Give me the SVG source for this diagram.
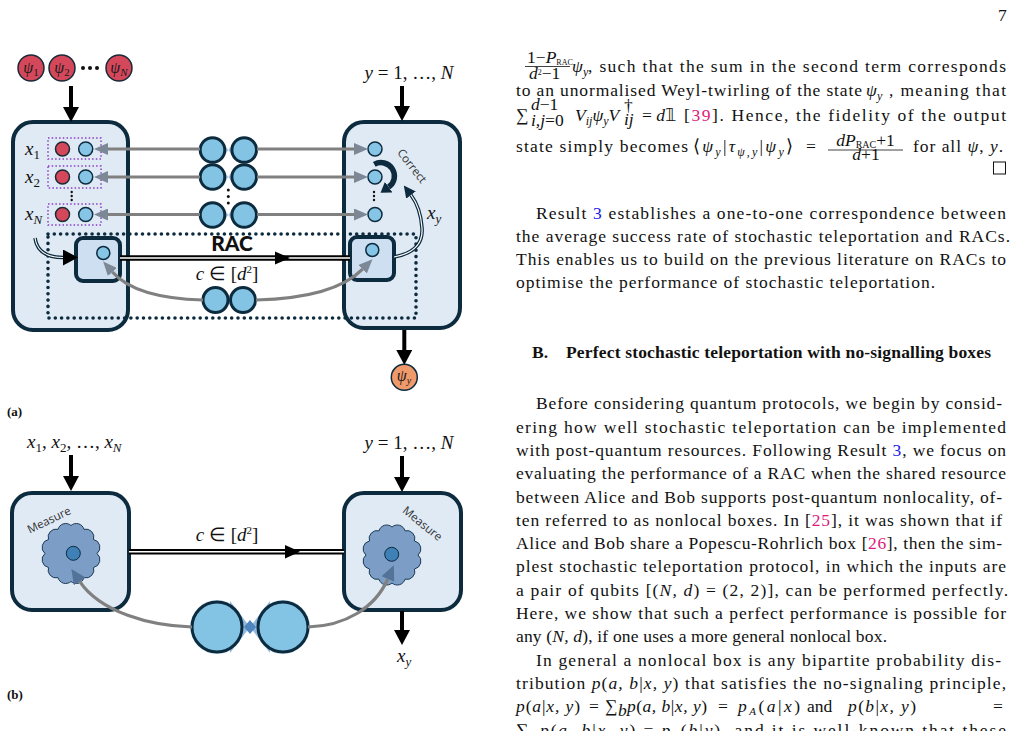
<svg xmlns="http://www.w3.org/2000/svg" width="1016" height="731" viewBox="0 0 1016 731">
<defs>
<style>
.t{font-family:"Liberation Serif",serif;font-size:17.5px;fill:#111}
.i{font-style:italic}
.s{font-size:12px}
.lnk{fill:#2020e8}
.cit{fill:#e0197d}
.h{font-family:"Liberation Serif",serif;font-size:17.5px;font-weight:bold;fill:#111}
.m{font-family:"Liberation Serif",serif;font-style:italic;font-size:19px;fill:#111}
.ms{font-size:13px}
.up{font-style:normal}
.box{fill:#e0eaf5;stroke:#0d2b3e;stroke-width:4}
.inner{fill:#cddff1;stroke:#0d2b3e;stroke-width:4}
.qb{fill:#86c5e6;stroke:#0d2b3e;stroke-width:1.5}
.rq{fill:#d5485c;stroke:#1b2a36;stroke-width:1.5}
.pr{fill:#83c3e3;stroke:#0d2b3e;stroke-width:3}
.gl{fill:none;stroke:#808080;stroke-width:3.2}
.bl{stroke:#000;stroke-width:4;fill:none}
.dl{fill:none;stroke:#000;stroke-width:5.5}
.dlw{fill:none;stroke:#fff;stroke-width:1.6}
.dln{fill:none;stroke:#0d2b3e;stroke-width:3.6}
.dlnw{fill:none;stroke:#fff;stroke-width:1.2}
.pur{fill:none;stroke:#8c3fc4;stroke-width:1.5;stroke-dasharray:1.5 2.2}
.dots{fill:none;stroke:#0d2b3e;stroke-width:3.6;stroke-linecap:round;stroke-dasharray:0 6.3}
.dot{fill:#111}
.cloud{fill:#7b9dc6;stroke:#1e3a55;stroke-width:1}
.qc{fill:#3f80b6;stroke:#0d2b3e;stroke-width:1}
.lbl{font-family:"Open Sans",sans-serif;font-size:11.5px;fill:#333}
.bow{fill:#6d9fd1;opacity:.6}
.psi{font-family:"Liberation Serif",serif;font-style:italic;font-size:16px;fill:#1a1a1a}
</style>
<marker id="ahb" markerUnits="userSpaceOnUse" markerWidth="15" markerHeight="16" viewBox="0 0 15 16" refX="0" refY="8" orient="auto"><path d="M0,0 L15,8 L0,16 z" fill="#000"/></marker>
<marker id="ahg" markerUnits="userSpaceOnUse" markerWidth="14" markerHeight="12" viewBox="0 0 14 12" refX="0" refY="6" orient="auto"><path d="M0,0 L14,6 L0,12 z" fill="#7d8896"/></marker>
<marker id="ahs" markerUnits="userSpaceOnUse" markerWidth="15" markerHeight="14" viewBox="0 0 15 14" refX="0" refY="7" orient="auto"><path d="M0,0 L15,7 L0,14 z" fill="#4c6d8f" fill-opacity="0.85"/></marker>
<marker id="ahn" markerUnits="userSpaceOnUse" markerWidth="12" markerHeight="12" viewBox="0 0 12 12" refX="0" refY="6" orient="auto"><path d="M0,0 L12,6 L0,12 z" fill="#0d2b3e"/></marker>
<marker id="ahc" markerUnits="userSpaceOnUse" markerWidth="10" markerHeight="13" viewBox="0 0 10 13" refX="0" refY="6.5" orient="auto"><path d="M0,0 L10,6.5 L0,13 z" fill="#0d2b3e"/></marker>
<path id="cloud" d="M26,0 A8,8 0 0 1 22.5,14 A8,8 0 0 1 13,24.2 A8,8 0 0 1 0,28 A8,8 0 0 1 -13,24.2 A8,8 0 0 1 -22.5,14 A8,8 0 0 1 -26,0 A8,8 0 0 1 -22.5,-14 A8,8 0 0 1 -13,-24.2 A8,8 0 0 1 0,-28 A8,8 0 0 1 13,-24.2 A8,8 0 0 1 22.5,-14 A8,8 0 0 1 26,0 Z"/>
</defs>
<rect width="1016" height="731" fill="#fff"/>

<!-- ============ (a) ============ -->
<g id="a-inputs">
  <circle class="rq" cx="31" cy="68" r="13"/>
  <text class="psi" x="31" y="73" text-anchor="middle">ψ<tspan font-size="11" dy="3" font-style="normal">1</tspan></text>
  <circle class="rq" cx="62" cy="68" r="13"/>
  <text class="psi" x="62" y="73" text-anchor="middle">ψ<tspan font-size="11" dy="3" font-style="normal">2</tspan></text>
  <circle class="dot" cx="83" cy="68" r="2"/><circle class="dot" cx="90" cy="68" r="2"/><circle class="dot" cx="97" cy="68" r="2"/>
  <circle class="rq" cx="119" cy="68" r="13"/>
  <text class="psi" x="119" y="73" text-anchor="middle">ψ<tspan font-size="11" dy="3">N</tspan></text>
</g>
<g id="a-ylabel">
  <text class="m" x="409" y="79" text-anchor="middle">y <tspan class="up">= 1, …,</tspan> N</text>
</g>
<g id="a-alice">
  <rect class="box" x="13" y="122" width="115" height="208" rx="20"/>
  <text class="m" x="25" y="155">x<tspan class="ms up" dy="4">1</tspan></text>
  <text class="m" x="25" y="183">x<tspan class="ms up" dy="4">2</tspan></text>
  <text class="m" x="25" y="220">x<tspan class="ms" dy="4">N</tspan></text>
  <rect class="pur" x="48" y="138" width="53" height="21"/>
  <rect class="pur" x="48" y="166" width="53" height="22"/>
  <rect class="pur" x="48" y="204" width="53" height="21"/>
  <circle class="rq" cx="62.5" cy="149" r="7"/><circle class="qb" cx="85.7" cy="149" r="7"/>
  <circle class="rq" cx="62.5" cy="177" r="7"/><circle class="qb" cx="85.7" cy="177" r="7"/>
  <circle class="rq" cx="62.5" cy="214.5" r="7"/><circle class="qb" cx="85.7" cy="214.5" r="7"/>
  <circle class="dot" cx="71.7" cy="192" r="1.2"/><circle class="dot" cx="71.7" cy="196" r="1.2"/><circle class="dot" cx="71.7" cy="200" r="1.2"/>
  <rect class="inner" x="76" y="238" width="44" height="43" rx="7"/>
  <circle class="qb" cx="103.3" cy="253" r="6.5"/>
</g>
<g id="a-bob">
  <rect class="box" x="344" y="122" width="116" height="206" rx="20"/>
  <circle class="qb" cx="375" cy="149" r="7"/>
  <circle class="qb" cx="375" cy="177" r="7"/>
  <circle class="qb" cx="375" cy="214.5" r="7"/>
  <circle class="dot" cx="374" cy="192" r="1.2"/><circle class="dot" cx="374" cy="196" r="1.2"/><circle class="dot" cx="374" cy="200" r="1.2"/>
  <path d="M374.3,164.3 A13.5,13.5 0 0 1 388.7,187.1" fill="none" stroke="#0d2b3e" stroke-width="5.5" marker-end="url(#ahc)"/>
  <text class="lbl" transform="translate(412,166) rotate(52)" y="4" text-anchor="middle">Correct</text>
  <text class="m" x="427" y="219">x<tspan class="ms" dy="4">y</tspan></text>
  <rect class="inner" x="350" y="237" width="44" height="43" rx="7"/>
  <circle class="qb" cx="372.3" cy="250" r="6.5"/>
</g>
<g id="a-pairs">
  <polygon class="bow" points="224,144 228.3,150 232.6,144 232.6,156 228.3,150 224,156"/>
  <polygon class="bow" points="224,171 228.3,177 232.6,171 232.6,183 228.3,177 224,183"/>
  <polygon class="bow" points="224,209 228.3,215 232.6,209 232.6,221 228.3,215 224,221"/>
  <circle class="pr" cx="212.5" cy="150" r="12.3"/><circle class="pr" cx="244.2" cy="150" r="12.3"/>
  <circle class="pr" cx="212.5" cy="177" r="12.3"/><circle class="pr" cx="244.2" cy="177" r="12.3"/>
  <circle class="pr" cx="212.5" cy="215" r="12.3"/><circle class="pr" cx="244.2" cy="215" r="12.3"/>
  <circle class="dot" cx="228.3" cy="190" r="1.5"/><circle class="dot" cx="228.3" cy="196.5" r="1.5"/><circle class="dot" cx="228.3" cy="203" r="1.5"/>
  <circle class="pr" cx="215.5" cy="300" r="12.5"/><circle class="pr" cx="243" cy="300" r="12.5"/>
</g>
<g id="a-rac">
  <path class="dots" d="M48,234 H416 V318 H48 Z"/>
  <text x="232" y="251" text-anchor="middle" font-family="Lato,sans-serif" font-weight="900" font-size="21" fill="#111">RAC</text>
  <text class="m" x="227" y="280" text-anchor="middle" font-size="17">c <tspan class="up">∈ [</tspan>d<tspan class="up" font-size="11" dy="-7">2</tspan><tspan class="up" dy="7">]</tspan></text>
</g>
<g id="a-output">
  <circle cx="404.3" cy="377.3" r="13" fill="#f0996a" stroke="#0d2b3e" stroke-width="1.5"/>
  <text class="psi" x="404" y="381" text-anchor="middle" font-size="14">ψ<tspan font-size="10" dy="3">y</tspan></text>
</g>
<g id="a-connectors">
  <line class="bl" x1="71" y1="86" x2="71" y2="107" marker-end="url(#ahb)"/>
  <line class="bl" x1="402" y1="86" x2="402" y2="106" marker-end="url(#ahb)"/>
  <line class="bl" x1="404.3" y1="330" x2="404.3" y2="350" marker-end="url(#ahb)"/>
  <line class="gl" x1="200" y1="149" x2="108" y2="149" marker-end="url(#ahg)"/>
  <line class="gl" x1="200" y1="177" x2="108" y2="177" marker-end="url(#ahg)"/>
  <line class="gl" x1="200" y1="214.5" x2="108" y2="214.5" marker-end="url(#ahg)"/>
  <line class="gl" x1="257" y1="149" x2="354" y2="149" marker-end="url(#ahg)"/>
  <line class="gl" x1="257" y1="177" x2="354" y2="177" marker-end="url(#ahg)"/>
  <line class="gl" x1="257" y1="214.5" x2="354" y2="214.5" marker-end="url(#ahg)"/>
  <path class="gl" d="M203,300 C165,299 130,292 112.4,272" marker-end="url(#ahg)"/>
  <path class="gl" d="M256,300 C300,299 340,292 362.6,269.2" marker-end="url(#ahg)"/>
  <path class="dl" d="M120,258 H350"/>
  <path class="dlw" d="M120,258 H350"/>
  <polygon points="275,251.5 290,258 275,264.5" fill="#000"/>
  <path class="dln" d="M35,238 C37,252 48,257.5 63,257.5" marker-end="url(#ahb)"/>
  <path class="dlnw" d="M35,238 C37,252 48,257.5 63,257.5"/>
  <path class="dln" d="M394,257 C416,253 423,242 422,228 C421,213 417,203 411,195" marker-end="url(#ahn)"/>
  <path class="dlnw" d="M394,257 C416,253 423,242 422,228 C421,213 417,203 411,195"/>
</g>
<text x="7" y="416" font-family="Liberation Serif,serif" font-weight="bold" font-size="13" fill="#111">(a)</text>

<!-- ============ (b) ============ -->
<g id="b-xlabel">
  <text class="m" x="27" y="448">x<tspan class="ms up" dy="4">1</tspan><tspan dy="-4" class="up">, </tspan>x<tspan class="ms up" dy="4">2</tspan><tspan dy="-4" class="up">, …, </tspan>x<tspan class="ms" dy="4">N</tspan></text>
</g>
<g id="b-ylabel">
  <text class="m" x="409" y="449" text-anchor="middle">y <tspan class="up">= 1, …,</tspan> N</text>
</g>
<g id="b-alice">
  <rect class="box" x="12" y="493" width="117" height="117" rx="20"/>
  <text class="lbl" transform="translate(49,520) rotate(-26)" y="4" text-anchor="middle">Measure</text>
  <use href="#cloud" class="cloud" transform="translate(71,553.5)"/>
  <circle class="qc" cx="73.3" cy="553.3" r="7"/>
</g>
<g id="b-bob">
  <rect class="box" x="344" y="493" width="117" height="117" rx="20"/>
  <text class="lbl" transform="translate(422.5,523.5) rotate(39)" y="4" text-anchor="middle">Measure</text>
  <use href="#cloud" class="cloud" transform="translate(392,555)"/>
  <circle class="qc" cx="391.7" cy="554.3" r="7"/>
</g>
<g id="b-pair">
  <circle cx="217" cy="627" r="27" fill="#9ccbe8" opacity="0.6"/>
  <circle cx="283" cy="627" r="27" fill="#9ccbe8" opacity="0.6"/>
  <polygon points="230,601 250,627 270,601 270,653 250,627 230,653" fill="#7eaedb" opacity="0.85"/>
  <polygon points="250,620 256,627 250,634 244,627" fill="#4f86be"/>
  <circle class="pr" cx="217" cy="627" r="25"/>
  <circle class="pr" cx="283" cy="627" r="25"/>
</g>
<g id="b-output">
  <text class="m" x="397" y="662">x<tspan class="ms" dy="4">y</tspan></text>
</g>
<g id="b-connectors">
  <line class="bl" x1="71" y1="455" x2="71" y2="476" marker-end="url(#ahb)"/>
  <line class="bl" x1="402" y1="456" x2="402" y2="477" marker-end="url(#ahb)"/>
  <line class="bl" x1="402" y1="611" x2="402" y2="630" marker-end="url(#ahb)"/>
  <path class="dl" d="M129,551.7 H344"/>
  <path class="dlw" d="M129,551.7 H344"/>
  <polygon points="285,545 300,551.7 285,558.4" fill="#000"/>
  <path class="gl" d="M192,627 C150,626 100,612 79.7,581.4" marker-end="url(#ahs)"/>
  <path class="gl" d="M308,627 C345,626 375,608 387.8,579" marker-end="url(#ahs)"/>
</g>
<text class="m" x="227" y="541" text-anchor="middle" font-size="17">c <tspan class="up">∈ [</tspan>d<tspan class="up" font-size="11" dy="-7">2</tspan><tspan class="up" dy="7">]</tspan></text>
<text x="7" y="699" font-family="Liberation Serif,serif" font-weight="bold" font-size="13" fill="#111">(b)</text>

<!-- ============ page text ============ -->
<g id="page-text">
<text class="t" x="998" y="21">7</text>

<text class="t" x="527" y="63" font-size="12">1−<tspan class="i">P</tspan><tspan font-size="8" dy="2">RAC</tspan></text>
<line x1="525" y1="66.5" x2="570" y2="66.5" stroke="#111" stroke-width="0.8"/>
<text class="t" x="529" y="78.5" font-size="12"><tspan class="i">d</tspan><tspan font-size="8" dy="-4">2</tspan><tspan dy="4">−1</tspan></text>
<text class="t i" x="572" y="72">ψ<tspan class="s" dy="4">y</tspan></text>
<text class="t" x="588" y="72" textLength="418" lengthAdjust="spacing">, such that the sum in the second term corresponds</text>

<text class="t" x="516" y="96" textLength="346" lengthAdjust="spacing">to an unormalised Weyl-twirling of the state</text>
<text class="t i" x="866" y="96">ψ<tspan class="s" dy="4">y</tspan></text>
<text class="t" x="889" y="96" textLength="117" lengthAdjust="spacing">, meaning that</text>

<text class="t" x="516" y="121" font-size="20">∑</text>
<text class="t" x="531" y="110" font-size="11"><tspan class="i">d</tspan>−1</text>
<text class="t" x="531" y="126" font-size="11"><tspan class="i">i,j</tspan>=0</text>
<text class="t i" x="575" y="121">V<tspan class="s" dy="4">ij</tspan><tspan dy="-4">ψ</tspan><tspan class="s" dy="4">y</tspan><tspan dy="-4">V</tspan></text>
<text class="t" x="624" y="111" font-size="11">†</text>
<text class="t i" x="624" y="125" font-size="11">ij</text>
<text class="t" x="642" y="121">= <tspan class="i">d</tspan>𝟙</text>
<text class="t" x="684" y="121" textLength="322" lengthAdjust="spacing">[<tspan class="cit">39</tspan>]. Hence, the fidelity of the output</text>

<text class="t" x="516" y="152" textLength="172" lengthAdjust="spacing">state simply becomes</text>
<text class="t" x="693" y="152" textLength="100" lengthAdjust="spacing">⟨<tspan class="i">ψ</tspan><tspan class="s i" dy="4">y</tspan><tspan dy="-4">|</tspan><tspan class="i">τ</tspan><tspan class="s i" dy="4">ψ,y</tspan><tspan dy="-4">|</tspan><tspan class="i">ψ</tspan><tspan class="s i" dy="4">y</tspan><tspan dy="-4">⟩</tspan></text>
<text class="t" x="806" y="152">=</text>
<text class="t" x="865.5" y="146" font-size="14" text-anchor="middle"><tspan class="i">dP</tspan><tspan font-size="10" dy="1.5">RAC</tspan><tspan dy="-1.5">+1</tspan></text>
<line x1="828" y1="150" x2="903" y2="150" stroke="#111" stroke-width="0.8"/>
<text class="t" x="866" y="160" font-size="14" text-anchor="middle"><tspan class="i">d</tspan>+1</text>
<text class="t" x="913" y="152" textLength="90" lengthAdjust="spacing">for all <tspan class="i">ψ</tspan>, <tspan class="i">y</tspan>.</text>
<rect x="993.5" y="162" width="12" height="12" fill="none" stroke="#111" stroke-width="1"/>

<text class="t" x="536" y="219" textLength="470" lengthAdjust="spacing">Result <tspan class="lnk">3</tspan> establishes a one-to-one correspondence between</text>
<text class="t" x="516" y="242" textLength="494" lengthAdjust="spacing">the average success rate of stochastic teleportation and RACs.</text>
<text class="t" x="516" y="265" textLength="490" lengthAdjust="spacing">This enables us to build on the previous literature on RACs to</text>
<text class="t" x="516" y="288" textLength="419" lengthAdjust="spacing">optimise the performance of stochastic teleportation.</text>

<text class="h" x="532" y="358">B.</text>
<text class="h" x="566" y="358" textLength="425" lengthAdjust="spacing">Perfect stochastic teleportation with no-signalling boxes</text>

<text class="t" x="536" y="409.3" textLength="466" lengthAdjust="spacing">Before considering quantum protocols, we begin by consid-</text>
<text class="t" x="516" y="432.6" textLength="490" lengthAdjust="spacing">ering how well stochastic teleportation can be implemented</text>
<text class="t" x="516" y="455.9" textLength="490" lengthAdjust="spacing">with post-quantum resources. Following Result <tspan class="lnk">3</tspan>, we focus on</text>
<text class="t" x="516" y="479.2" textLength="490" lengthAdjust="spacing">evaluating the performance of a RAC when the shared resource</text>
<text class="t" x="516" y="502.5" textLength="486" lengthAdjust="spacing">between Alice and Bob supports post-quantum nonlocality, of-</text>
<text class="t" x="516" y="525.8" textLength="486" lengthAdjust="spacing">ten referred to as nonlocal boxes. In [<tspan class="cit">25</tspan>], it was shown that if</text>
<text class="t" x="516" y="549.1" textLength="486" lengthAdjust="spacing">Alice and Bob share a Popescu-Rohrlich box [<tspan class="cit">26</tspan>], then the sim-</text>
<text class="t" x="516" y="572.4" textLength="490" lengthAdjust="spacing">plest stochastic teleportation protocol, in which the inputs are</text>
<text class="t" x="516" y="595.7" textLength="492" lengthAdjust="spacing">a pair of qubits [(<tspan class="i">N, d</tspan>) = (2, 2)], can be performed perfectly.</text>
<text class="t" x="516" y="619" textLength="490" lengthAdjust="spacing">Here, we show that such a perfect performance is possible for</text>
<text class="t" x="516" y="642.3" textLength="371" lengthAdjust="spacing">any (<tspan class="i">N, d</tspan>), if one uses a more general nonlocal box.</text>
<text class="t" x="536" y="665.6" textLength="465" lengthAdjust="spacing">In general a nonlocal box is any bipartite probability dis-</text>
<text class="t" x="516" y="688.9" textLength="490" lengthAdjust="spacing">tribution <tspan class="i">p</tspan>(<tspan class="i">a, b</tspan>|<tspan class="i">x, y</tspan>) that satisfies the no-signaling principle,</text>

<text class="t" x="516" y="712.2" textLength="64" lengthAdjust="spacing"><tspan class="i">p</tspan>(<tspan class="i">a</tspan>|<tspan class="i">x, y</tspan>)</text>
<text class="t" x="589" y="712.2">=</text>
<text class="t" x="605" y="712.2" font-size="15">∑</text>
<text class="t i" x="618" y="716" font-size="11">b</text>
<text class="t" x="627" y="712.2" textLength="80" lengthAdjust="spacing"><tspan class="i">p</tspan>(<tspan class="i">a, b</tspan>|<tspan class="i">x, y</tspan>)</text>
<text class="t" x="718" y="712.2">=</text>
<text class="t" x="738" y="712.2" textLength="62" lengthAdjust="spacing"><tspan class="i">p</tspan><tspan class="i" font-size="11" dy="3">A</tspan><tspan dy="-3">(</tspan><tspan class="i">a</tspan>|<tspan class="i">x</tspan>)</text>
<text class="t" x="807" y="712.2">and</text>
<text class="t" x="848" y="712.2" textLength="68" lengthAdjust="spacing"><tspan class="i">p</tspan>(<tspan class="i">b</tspan>|<tspan class="i">x, y</tspan>)</text>
<text class="t" x="993" y="712.2">=</text>

<text class="t" x="516" y="735.5" font-size="15">∑</text>
<text class="t i" x="529" y="739" font-size="11">a</text>
<text class="t" x="540" y="735.5" textLength="466" lengthAdjust="spacing"><tspan class="i">p</tspan>(<tspan class="i">a, b</tspan>|<tspan class="i">x, y</tspan>) = <tspan class="i">p</tspan><tspan class="i" font-size="11" dy="3">B</tspan><tspan dy="-3">(</tspan><tspan class="i">b</tspan>|<tspan class="i">y</tspan>), and it is well-known that these</text>
</g>
</svg>
